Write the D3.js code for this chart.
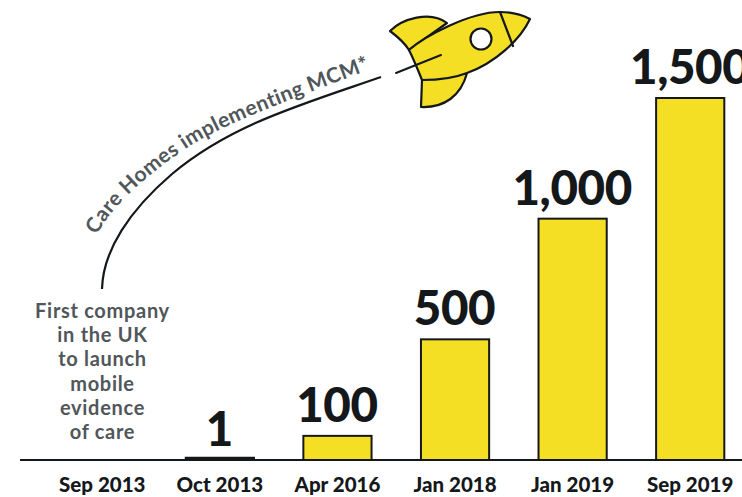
<!DOCTYPE html>
<html>
<head>
<meta charset="utf-8">
<script src="https://cdn.jsdelivr.net/npm/d3@7"></script>
<style>
html, body { margin: 0; padding: 0; background: #fff; overflow: hidden; }
text { font-family: Lato, sans-serif; }
</style>
</head>
<body>
<div id="chart"></div>
<script>
const categories = ["Sep 2013", "Oct 2013", "Apr 2016", "Jan 2018", "Jan 2019", "Sep 2019"];
const values = [null, 1, 100, 500, 1000, 1500];
const valueLabels = ["", "1", "100", "500", "1,000", "1,500"];
const noteLines = ["First company", "in the UK", "to launch", "mobile", "evidence", "of care"];
const curveLabel = "Care Homes implementing MCM*";

const width = 742, height = 497;
const baseline = 460;
const yellow = "#f5df25", ink = "#15181a", grey = "#50565a";

const svg = d3.select("#chart").append("svg")
    .attr("width", width)
    .attr("height", height);

const x = d3.scaleBand()
    .domain(categories)
    .range([43.5, 749])
    .paddingInner(0.42)
    .paddingOuter(0.21);

const y = d3.scaleLinear()
    .domain([0, 1500])
    .range([baseline, 98]);

// baseline
svg.append("line")
    .attr("x1", 20).attr("x2", width)
    .attr("y1", baseline).attr("y2", baseline)
    .attr("stroke", ink)
    .attr("stroke-width", 2);

// bars
const barData = categories.map((c, i) => ({c, v: values[i], label: valueLabels[i]})).filter(d => d.v !== null);

svg.selectAll("rect.bar")
    .data(barData)
    .join("rect")
    .attr("class", "bar")
    .attr("x", d => x(d.c))
    .attr("y", d => y(d.v) - (d.v === 1 ? 2 : 0))
    .attr("width", x.bandwidth())
    .attr("height", d => baseline - y(d.v) + (d.v === 1 ? 2 : 0))
    .attr("fill", d => d.v === 1 ? ink : yellow)
    .attr("stroke", ink)
    .attr("stroke-width", 2);

svg.selectAll("text.value")
    .data(barData)
    .join("text")
    .attr("class", "value")
    .attr("x", d => x(d.c) + x.bandwidth() / 2 - 0.5)
    .attr("y", d => y(d.v) - 14)
    .attr("text-anchor", "middle")
    .attr("font-size", 47.5)
    .attr("font-weight", 900)
    .attr("letter-spacing", -0.4)
    .attr("fill", ink)
    .text(d => d.label);

// month labels
svg.selectAll("text.cat")
    .data(categories)
    .join("text")
    .attr("class", "cat")
    .attr("x", d => x(d) + x.bandwidth() / 2)
    .attr("y", 492)
    .attr("text-anchor", "middle")
    .attr("font-size", 20.5)
    .attr("font-weight", 900)
    .attr("fill", ink)
    .text(d => d);

// note on the left
svg.selectAll("text.note")
    .data(noteLines)
    .join("text")
    .attr("class", "note")
    .attr("x", 102.5)
    .attr("y", (d, i) => 318 + i * 24.2)
    .attr("text-anchor", "middle")
    .attr("font-size", 20)
    .attr("font-weight", 700)
    .attr("letter-spacing", 0.7)
    .attr("fill", grey)
    .text(d => d);

// curve up to the rocket
svg.append("path")
    .attr("d", "M102,289C103,250 130,210 172,174C230,125 300,105 381,77")
    .attr("fill", "none")
    .attr("stroke", ink)
    .attr("stroke-width", 2.2);

svg.append("path")
    .attr("id", "labelCurve")
    .attr("d", "M97,235C112,205 150,172 190,146C232,120 290,100 410,54")
    .attr("fill", "none");

svg.append("text")
    .attr("font-size", 21)
    .attr("font-weight", 700)
    .attr("letter-spacing", 0.4)
    .attr("fill", grey)
    .append("textPath")
    .attr("href", "#labelCurve")
    .text(curveLabel);

// rocket
const rocket = svg.append("g")
    .attr("stroke", ink)
    .attr("stroke-width", 2.2)
    .attr("stroke-linejoin", "round")
    .attr("stroke-linecap", "round");

rocket.append("path")
    .attr("fill", yellow)
    .attr("d", "M390,31C402,19 430,10 447,23L409,50C404,42 398,37 390,31Z");
rocket.append("path")
    .attr("fill", yellow)
    .attr("d", "M422,80L421,107C444,108 461,96 467,73Z");
rocket.append("path")
    .attr("fill", yellow)
    .attr("d", "M409,50C425,36 470,12 500,12C512,12 522,15 530,19C520,40 495,63 467,73C452,79 437,80 422,80C418,70 414,60 409,50Z");
rocket.append("path")
    .attr("fill", "none")
    .attr("d", "M500,12L513,46");
rocket.append("circle")
    .attr("cx", 481)
    .attr("cy", 39)
    .attr("r", 10.5)
    .attr("fill", "#fff");
rocket.append("path")
    .attr("fill", "none")
    .attr("stroke-width", 2)
    .attr("d", "M396,73L441,55");
</script>
</body>
</html>
